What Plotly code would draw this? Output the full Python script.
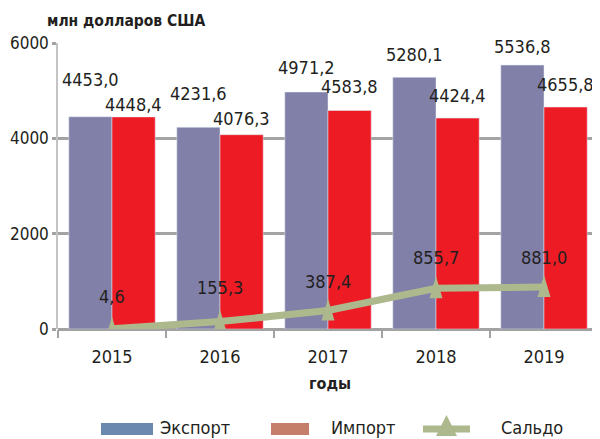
import plotly.graph_objects as go

# ---- data ----
years = ["2015", "2016", "2017", "2018", "2019"]
export_vals = [4453.0, 4231.6, 4971.2, 5280.1, 5536.8]
import_vals = [4448.4, 4076.3, 4583.8, 4424.4, 4655.8]
saldo_vals = [4.6, 155.3, 387.4, 855.7, 881.0]
y_ticks = [0, 2000, 4000, 6000]
series_names = ["Экспорт", "Импорт", "Сальдо"]
y_unit = "млн долларов США"
x_title = "годы"

# ---- style ----
FONT = "DejaVu Sans Condensed, Liberation Sans Narrow, sans-serif"
TXT = "#231f20"
C_EXP = "#8080a8"
C_IMP = "#ed1c24"
C_SAL = "#adb88c"
C_EXP_LEG = "#6b88ae"
C_IMP_LEG = "#c47e6a"
GRID = "#a3a3a3"

# the page body has an 8px default margin; size the figure so it fills the 600x439 window
PAGE_OFF = 8
W, H = 600 - PAGE_OFF, 439 - PAGE_OFF
PLOT_L, PLOT_R, PLOT_T, PLOT_B = 58, 598, 43, 329   # plot area in window pixels
L, T = PLOT_L - PAGE_OFF, PLOT_T - PAGE_OFF
R = W - (PLOT_R - PAGE_OFF)
B = H - (PLOT_B - PAGE_OFF)
pw, ph = PLOT_R - PLOT_L, PLOT_B - PLOT_T


def px(x):
    return (x - PLOT_L) / pw


def py(y):
    return (PLOT_B - y) / ph


def fmt(v):
    return f"{v:.1f}".replace(".", ",")


# label offsets (pixels above mark)
exp_dy = [37, 34, 25, 23, 19]
imp_dy = [12, 16, 24, 23, 23]
sal_dy = [32, 34, 29, 31, 30]
half_bar = 21.5

fig = go.Figure()
fig.add_trace(go.Bar(x=years, y=export_vals, name=series_names[0], marker_color=C_EXP))
fig.add_trace(go.Bar(x=years, y=import_vals, name=series_names[1], marker_color=C_IMP))
fig.add_trace(go.Scatter(x=years, y=saldo_vals, name=series_names[2], mode="lines",
                         line=dict(color=C_SAL, width=7), cliponaxis=False))

ann = []
for i in range(len(years)):
    ann.append(dict(x=i, y=export_vals[i], text=fmt(export_vals[i]), xshift=-half_bar,
                    yshift=exp_dy[i], showarrow=False, yanchor="middle"))
    ann.append(dict(x=i, y=import_vals[i], text=fmt(import_vals[i]), xshift=half_bar,
                    yshift=imp_dy[i], showarrow=False, yanchor="middle"))
    ann.append(dict(x=i, y=saldo_vals[i], text=fmt(saldo_vals[i]), xshift=0,
                    yshift=sal_dy[i], showarrow=False, yanchor="middle"))
for a in ann:
    a["font"] = dict(family=FONT, size=18, color=TXT)

# title and axis title
ann.append(dict(xref="paper", yref="paper", x=px(45), y=py(21), text="<b>%s</b>" % y_unit,
                xanchor="left", yanchor="middle", showarrow=False,
                font=dict(family=FONT, size=15.5, color=TXT)))
ann.append(dict(xref="paper", yref="paper", x=px(330), y=py(383), text="<b>%s</b>" % x_title,
                xanchor="center", yanchor="middle", showarrow=False,
                font=dict(family=FONT, size=16, color=TXT)))

# manual legend
leg_y = 429
for name, xl in zip(series_names, [158, 329, 499]):
    ann.append(dict(xref="paper", yref="paper", x=px(xl), y=py(leg_y - 1.5), text=name,
                    xanchor="left", yanchor="middle", showarrow=False,
                    font=dict(family=FONT, size=18, color=TXT)))

shapes = []
shapes.append(dict(type="rect", xref="paper", yref="paper", x0=px(101), x1=px(153),
                   y0=py(423), y1=py(435), fillcolor=C_EXP_LEG, line=dict(width=0)))
shapes.append(dict(type="rect", xref="paper", yref="paper", x0=px(271), x1=px(309),
                   y0=py(423), y1=py(435), fillcolor=C_IMP_LEG, line=dict(width=0)))
shapes.append(dict(type="line", xref="paper", yref="paper", x0=px(423), x1=px(470),
                   y0=py(leg_y), y1=py(leg_y), line=dict(color=C_SAL, width=7)))
shapes.append(dict(type="path", xref="paper", yref="paper",
                   path="M%f,%f L%f,%f L%f,%f Z" % (px(436), py(436), px(457), py(436), px(446.5), py(415)),
                   fillcolor=C_SAL, line=dict(width=0)))

# narrow triangle markers on the Saldo line, anchored at each data point (category index)
for i, v in enumerate(saldo_vals):
    shapes.append(dict(type="path", xref="x", yref="y", xsizemode="pixel", ysizemode="pixel",
                       xanchor=i, yanchor=v, path="M-6.5,-10 L6.5,-10 L0,12 Z",
                       fillcolor=C_SAL, line=dict(width=0), layer="above"))

fig.update_layout(
    width=W, height=H,
    margin=dict(l=L, r=R, t=T, b=B),
    paper_bgcolor="white", plot_bgcolor="white",
    barmode="group", bargap=0.2, bargroupgap=0,
    showlegend=False,
    annotations=ann, shapes=shapes,
    font=dict(family=FONT, size=18, color=TXT),
)
fig.update_xaxes(type="category", categoryarray=years, categoryorder="array",
                 range=[-0.5, len(years) - 0.5],
                 tickson="boundaries", ticks="outside", ticklen=8,
                 tickcolor=GRID, tickwidth=1.5, showline=False, showgrid=False,
                 zeroline=False, tickfont=dict(family=FONT, size=18, color=TXT),
                 ticklabelstandoff=15)
fig.update_yaxes(range=[0, 6000], tickvals=y_ticks, showgrid=True, gridcolor=GRID,
                 gridwidth=3, showline=True, linecolor="#c4c4c4", linewidth=1.5,
                 ticks="outside", ticklen=4, tickcolor=GRID, tickwidth=3,
                 zeroline=True, zerolinecolor=GRID, zerolinewidth=3,
                 tickfont=dict(family=FONT, size=17, color=TXT))

fig.write_html("out.html")
